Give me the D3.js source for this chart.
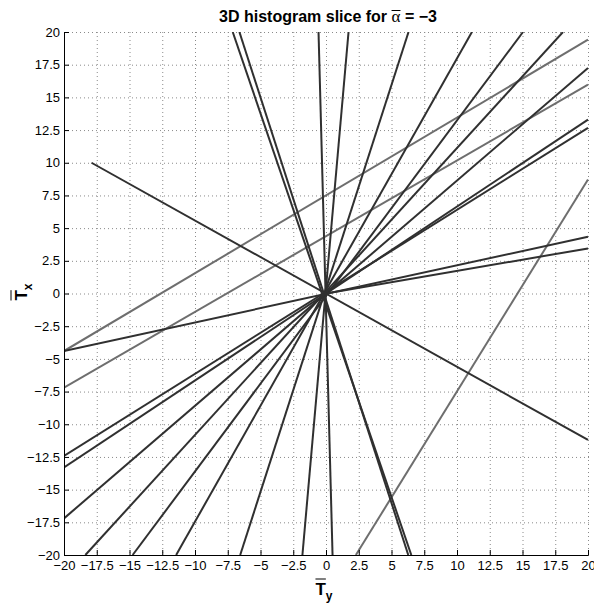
<!DOCTYPE html>
<html>
<head>
<meta charset="utf-8">
<script src="https://cdn.jsdelivr.net/npm/d3@7"></script>
<style>
  body { margin: 0; background: #fff; }
  svg { display: block; font-family: "Liberation Sans", Arial, sans-serif; }
</style>
</head>
<body>
<svg id="chart" width="594" height="603"></svg>
<script>
// tick positions shared by both axes
const tickValues = [-20, -17.5, -15, -12.5, -10, -7.5, -5, -2.5, 0, 2.5, 5, 7.5, 10, 12.5, 15, 17.5, 20];

// slice lines, [start, end] in (Ty, Tx) units
const darkLines = [
  [[-7.12, 20], [6.51, -20]],
  [[-6.61, 20], [6.28, -20]],
  [[-0.57, 20], [0.5, -20]],
  [[1.72, 20], [-1.8, -20]],
  [[6.3, 20], [-6.55, -20]],
  [[11.14, 20], [-11.44, -20]],
  [[15.04, 20], [-14.76, -20]],
  [[18.09, 20], [-18.37, -20]],
  [[20, 17.25], [-20, -17.2]],
  [[20, 13.3], [-20, -13.31]],
  [[20, 12.67], [-20, -12.42]],
  [[20, 4.34], [-20, -4.4]],
  [[20, 3.45], [0, 0]],
  [[-17.9, 10], [20, -11.2]]
];
const grayLines = [
  [[-20, -4.4], [20, 19.41]],
  [[-20, -7.2], [20, 15.97]],
  [[2.28, -20], [20, 8.72]]
];

const titleText = ["3D histogram slice for ", "\u03b1", " = \u22123"];

const svg = d3.select('#chart');
const m = { left: 64, right: 588, top: 32, bottom: 555 };

const x = d3.scaleLinear().domain([-20, 20]).range([m.left, m.right]);
const y = d3.scaleLinear().domain([-20, 20]).range([m.bottom, m.top]);
const fmt = d3.format('~g');

svg.append('clipPath').attr('id', 'plot-clip')
  .append('rect')
  .attr('x', m.left).attr('y', m.top)
  .attr('width', m.right - m.left + 1).attr('height', m.bottom - m.top + 1);

// dotted grid
const grid = svg.append('g')
  .attr('stroke', '#8a8a8a')
  .attr('stroke-width', 1)
  .attr('stroke-dasharray', '1,3');
grid.selectAll('line.gx')
  .data(tickValues)
  .enter().append('line')
  .attr('class', 'gx')
  .attr('x1', d => x(d) + 0.5).attr('x2', d => x(d) + 0.5)
  .attr('y1', m.top).attr('y2', m.bottom);
grid.selectAll('line.gy')
  .data(tickValues)
  .enter().append('line')
  .attr('class', 'gy')
  .attr('y1', d => y(d) + 0.5).attr('y2', d => y(d) + 0.5)
  .attr('x1', m.left).attr('x2', m.right + 1);

const line = d3.line().x(d => x(d[0])).y(d => y(d[1]));

const plot = svg.append('g').attr('clip-path', 'url(#plot-clip)').attr('fill', 'none');
plot.selectAll('path.gray')
  .data(grayLines)
  .enter().append('path')
  .attr('class', 'gray')
  .attr('d', line)
  .attr('stroke', '#6e6e6e')
  .attr('stroke-width', 2);
plot.selectAll('path.dark')
  .data(darkLines)
  .enter().append('path')
  .attr('class', 'dark')
  .attr('d', line)
  .attr('stroke', '#303030')
  .attr('stroke-width', 2);

// axes, ticks pointing inward
const xAxis = svg.append('g')
  .attr('transform', `translate(0,${m.bottom})`)
  .call(d3.axisBottom(x).tickValues(tickValues).tickFormat(fmt)
    .tickSizeInner(-5).tickSizeOuter(0).tickPadding(6));
const yAxis = svg.append('g')
  .attr('transform', `translate(${m.left},0)`)
  .call(d3.axisLeft(y).tickValues(tickValues).tickFormat(fmt)
    .tickSizeInner(-5).tickSizeOuter(0).tickPadding(4));

[xAxis, yAxis].forEach(a => {
  a.attr('font-family', null).attr('font-size', null);
  a.selectAll('text').style('font-size', '13px').attr('fill', '#000');
  a.select('.domain').attr('stroke', '#000');
  a.selectAll('.tick line').attr('stroke', '#000');
});

// title with overlined alpha
const title = svg.append('text')
  .attr('x', (m.left + m.right) / 2 + 2)
  .attr('y', 22)
  .attr('text-anchor', 'middle')
  .style('font-size', '16px')
  .style('font-weight', 'bold');
title.append('tspan').text(titleText[0]);
title.append('tspan')
  .style('font-family', '"Liberation Serif", serif')
  .style('font-weight', 'normal')
  .style('font-size', '17px')
  .text(titleText[1]);
title.append('tspan').text(titleText[2]);

const overline = (parent, textNode, idx, yy) => {
  const s = textNode.getStartPositionOfChar(idx);
  const e = textNode.getEndPositionOfChar(idx);
  parent.append('line')
    .attr('x1', s.x).attr('x2', e.x)
    .attr('y1', yy).attr('y2', yy)
    .attr('stroke', '#000').attr('stroke-width', 1);
};
overline(svg, title.node(), titleText[0].length, 10.5);

// x label: T-bar with subscript y
const xLabel = svg.append('text')
  .attr('x', 324)
  .attr('y', 595)
  .attr('text-anchor', 'middle')
  .style('font-weight', 'bold')
  .style('font-size', '17px');
xLabel.append('tspan').text('T');
xLabel.append('tspan').attr('dy', 5).style('font-size', '12px').text('y');
overline(svg, xLabel.node(), 0, 579);

// y label, rotated
const yLabelG = svg.append('g').attr('transform', 'translate(27,292) rotate(-90)');
const yLabel = yLabelG.append('text')
  .attr('text-anchor', 'middle')
  .style('font-weight', 'bold')
  .style('font-size', '17px');
yLabel.append('tspan').text('T');
yLabel.append('tspan').attr('dy', 5).style('font-size', '12px').text('x');
overline(yLabelG, yLabel.node(), 0, -16);
</script>
</body>
</html>
